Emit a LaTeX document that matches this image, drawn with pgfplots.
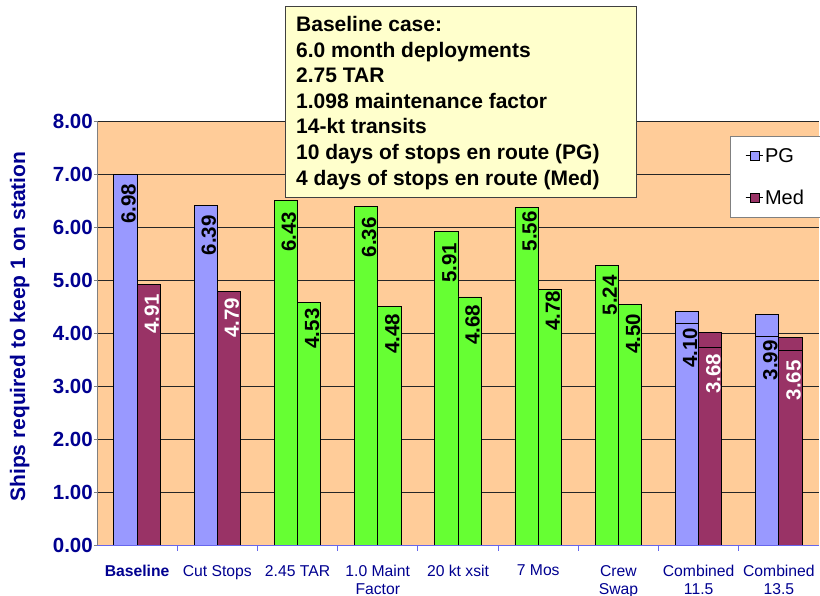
\documentclass[border=0pt]{standalone}
\usepackage{pgfplots}
\pgfplotsset{compat=1.18}
\usepackage{pgfplotstable}
\usepackage{fontspec}
\setmainfont{Liberation Sans}

\definecolor{pgblue}{HTML}{9999FF}
\definecolor{medred}{HTML}{993366}
\definecolor{grn}{HTML}{66FF33}
\definecolor{bgc}{HTML}{FFCC99}
\definecolor{note}{HTML}{FFFFCC}
\definecolor{navyc}{HTML}{000090}
\definecolor{xblue}{HTML}{6666EE}

\pgfplotstableread{
x y lab off
0 6.99 6.98 8.7
1 6.41 6.39 9.7
}\pgBlue
\pgfplotstableread{
x y lab off
0 4.92 4.91 9
1 4.79 4.79 6.3
}\medRed
\pgfplotstableread{
x y lab off
2 6.50 6.43 11
3 6.38 6.36 10
4 5.91 5.91 10.6
5 6.37 5.56 3.4
6 5.27 5.24 9.3
}\pgGreen
\pgfplotstableread{
x y lab off
2 4.57 4.53 5.3
3 4.50 4.48 6.7
4 4.68 4.68 7.3
5 4.82 4.78 1
6 4.53 4.50 8.3
}\medGreen
\pgfplotstableread{
x y
7 4.41
8 4.35
}\pgOuter
\pgfplotstableread{
x y
7 4.01
8 3.92
}\medOuter
\pgfplotstableread{
x y lab off
7 4.18 4.10 4
8 3.94 3.99 3.7
}\pgInner
\pgfplotstableread{
x y lab off
7 3.73 3.68 6
8 3.68 3.65 10
}\medInner

\pgfplotsset{
  lbl/.style 2 args={
    point meta=explicit symbolic,
    visualization depends on={\thisrow{off} \as \off},
    nodes near coords={\pgfplotspointmeta},
    nodes near coords style={xshift=#2, yshift=-\off pt, rotate=90, anchor=east, inner sep=0pt,
      text=#1, font=\fontsize{20.5}{24}\selectfont\bfseries}
  },
  pgbar/.style={ybar, bar width=0.29, bar shift=-0.145, draw=black, line width=0.9pt},
  medbar/.style={ybar, bar width=0.29, bar shift=0.145, draw=black, line width=0.9pt},
}

\begin{document}
\begin{tikzpicture}
\path[use as bounding box] (0,0) rectangle (820pt,596pt);
\begin{axis}[
  at={(97pt,51pt)}, anchor=south west,
  scale only axis, width=722pt, height=424pt,
  xmin=-0.5, xmax=8.5, ymin=0, ymax=8,
  axis background/.style={fill=bgc},
  axis x line*=bottom, axis y line*=left,
  x axis line style={draw=xblue, line width=0.8pt, -},
  y axis line style={draw=gray, line width=0.8pt, -},
  ytick={0,1,...,8},
  yticklabel={\pgfmathprintnumber[fixed,fixed zerofill,precision=2,assume math mode=true]{\tick}},
  yticklabel style={font=\fontsize{20.5}{24}\selectfont\bfseries, text=navyc, inner sep=1pt},
  ymajorgrids, grid style={draw=black!85, line width=0.9pt},
  xtick={0,...,8},
  xticklabels={\textbf{Baseline}, Cut Stops, 2.45 TAR, {1.0 Maint\\Factor}, 20 kt xsit, 7 Mos, {Crew\\Swap}, {Combined\\11.5}, {Combined\\13.5}},
  xticklabel style={font=\fontsize{15.7}{18}\selectfont, text=navyc, align=center, inner sep=0pt, yshift=-17pt},
  major x tick style={draw=none},
  minor xtick={0.5,1.5,...,7.5},
  minor tick length=6pt,
  minor x tick style={draw=xblue, line width=0.8pt},
  major tick length=3pt,
  y tick style={draw=gray, line width=0.8pt},
  tick align=outside,
  ylabel={Ships required to keep 1 on station},
  ylabel style={font=\fontsize{21}{24}\selectfont\bfseries, text=navyc, at={(axis description cs:-0.107,0.515)}, anchor=center},
  legend style={at={(0.8767,0.9646)}, anchor=north west, draw=gray, fill=white,
    font=\fontsize{20}{24}\selectfont, row sep=22pt, inner xsep=15pt, inner ysep=10pt},
  legend cell align=left,
]
\addplot[pgbar, fill=pgblue, lbl={black}{-8.6pt},
  legend image code/.code={\path (0pt,0pt) -- (17pt,0pt); \draw[fill=pgblue,draw=black,line width=0.5pt] (5pt,-4.5pt) rectangle (14pt,4.5pt);}]
  table[x=x,y=y,meta=lab] {\pgBlue};
\addlegendentry{PG}
\addplot[medbar, fill=medred, lbl={white}{14.6pt},
  legend image code/.code={\path (0pt,0pt) -- (17pt,0pt); \draw[fill=medred,draw=black,line width=0.5pt] (5pt,-4.5pt) rectangle (14pt,4.5pt);}]
  table[x=x,y=y,meta=lab] {\medRed};
\addlegendentry{Med}
\addplot[pgbar, fill=grn, lbl={black}{-8.6pt}, forget plot] table[x=x,y=y,meta=lab] {\pgGreen};
\addplot[medbar, fill=grn, lbl={black}{14.6pt}, forget plot] table[x=x,y=y,meta=lab] {\medGreen};
\addplot[pgbar, fill=pgblue, forget plot] table[x=x,y=y] {\pgOuter};
\addplot[medbar, fill=medred, forget plot] table[x=x,y=y] {\medOuter};
\addplot[pgbar, fill=pgblue, lbl={black}{-8.6pt}, forget plot] table[x=x,y=y,meta=lab] {\pgInner};
\addplot[medbar, fill=medred, lbl={white}{14.6pt}, forget plot] table[x=x,y=y,meta=lab] {\medInner};
\end{axis}
\draw[draw=black!75, fill=note, line width=0.8pt] (285pt,399pt) rectangle (636pt,590pt);
\node[anchor=north west, align=left, font=\fontsize{21}{25.6}\selectfont\bfseries, inner sep=0pt]
  at (296pt,580pt) {Baseline case:\\6.0 month deployments\\2.75 TAR\\1.098 maintenance factor\\14-kt transits\\10 days of stops en route (PG)\\4 days of stops en route (Med)};
\end{tikzpicture}
\end{document}
